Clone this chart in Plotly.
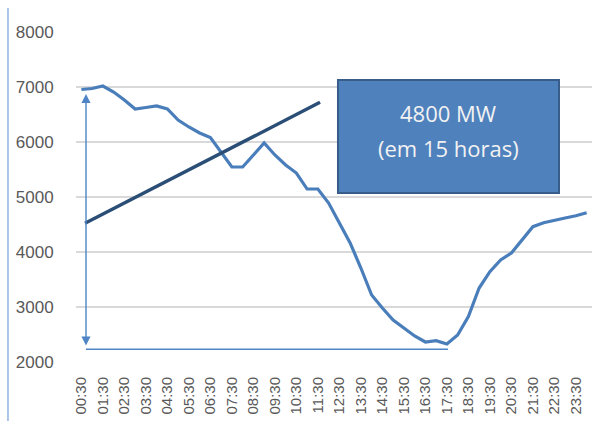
import plotly.graph_objects as go

# Horários (meia em meia hora) e carga em MW
horarios = [f"{(i // 2):02d}:30" if i % 2 == 0 else f"{(i // 2 + 1) % 24:02d}:00" for i in range(48)]
carga = [6955, 6973, 7018, 6909, 6764, 6600, 6627, 6655, 6600, 6400,
         6273, 6164, 6082, 5818, 5545, 5545, 5764, 5982, 5764, 5582,
         5436, 5145, 5145, 4891, 4527, 4164, 3709, 3218, 2982, 2764,
         2618, 2473, 2364, 2387, 2327, 2491, 2824, 3345, 3642, 3855,
         3982, 4218, 4460, 4533, 4569, 4618, 4660, 4715]

# Rampa (linha escura) e cotas do intervalo
rampa_x = [0.34, 22.2]
rampa_y = [4522, 6722]
cota_x = 0.43
cota_topo = 6873
cota_base = 2231
cota_fim = 34.1

idx = list(range(len(horarios)))
ticks_idx = idx[::2]
ticks_txt = horarios[::2]

cor_linha = "#4a7ebb"
cor_cota = "#4f85c6"

fig = go.Figure()

fig.add_trace(go.Scatter(
    x=idx, y=carga, mode="lines",
    line=dict(color=cor_linha, width=3.2),
    hoverinfo="skip", showlegend=False,
))

fig.add_trace(go.Scatter(
    x=rampa_x, y=rampa_y, mode="lines",
    line=dict(color="#2b4e76", width=3.4),
    hoverinfo="skip", showlegend=False,
))

# linha horizontal na base
fig.add_trace(go.Scatter(
    x=[cota_x, cota_fim], y=[cota_base, cota_base], mode="lines",
    line=dict(color=cor_cota, width=1.6),
    hoverinfo="skip", showlegend=False,
))

# seta dupla vertical
fig.add_annotation(x=cota_x, y=cota_topo, ax=cota_x, ay=cota_base + 40,
                   xref="x", yref="y", axref="x", ayref="y",
                   showarrow=True, arrowhead=2, arrowsize=1.3, arrowwidth=1.4,
                   arrowcolor=cor_cota, arrowside="end+start", text="")

# caixa de texto
fig.add_shape(type="rect", xref="x", yref="y", x0=23.87, x1=44.43, y0=5073, y1=7127,
              fillcolor="#4f81bd", line=dict(color="#385d8a", width=2), layer="above")
fig.add_annotation(x=34.15, y=6536, xref="x", yref="y", text="4800 MW", showarrow=False,
                   font=dict(family="Open Sans", size=22, color="#f2f2f2"))
fig.add_annotation(x=34.15, y=5900, xref="x", yref="y", text="(em 15 horas)", showarrow=False,
                   font=dict(family="Open Sans", size=22, color="#f2f2f2"))

# linha decorativa à esquerda
fig.add_shape(type="line", xref="paper", yref="paper", x0=-0.1318, x1=-0.1318,
              y0=-0.18, y1=1.073, line=dict(color="#8eb4e3", width=1.5))

fig.update_layout(
    width=601, height=421,
    margin=dict(l=76, r=9, t=32, b=59, autoexpand=False),
    paper_bgcolor="white", plot_bgcolor="white",
    font=dict(family="Liberation Sans", color="#595959"),
)
fig.update_xaxes(
    range=[-0.5, 47.5], tickvals=ticks_idx, ticktext=ticks_txt,
    tickangle=-90, tickfont=dict(size=15, color="#595959"),
    showgrid=False, zeroline=False, showline=False, automargin=False,
    ticks="outside", ticklen=8, tickcolor="rgba(0,0,0,0)",
)
fig.update_yaxes(
    range=[2000, 8000], dtick=1000, tickformat="d",
    tickfont=dict(size=17, color="#595959"),
    showgrid=True, gridcolor="#d9d9d9", gridwidth=1.5,
    zeroline=False, showline=False, automargin=False,
    ticks="outside", ticklen=18, tickcolor="rgba(0,0,0,0)",
)

fig.write_html("out.html", config={"displayModeBar": False},
               post_script="document.body.style.margin='0';document.body.style.overflow='hidden';")
